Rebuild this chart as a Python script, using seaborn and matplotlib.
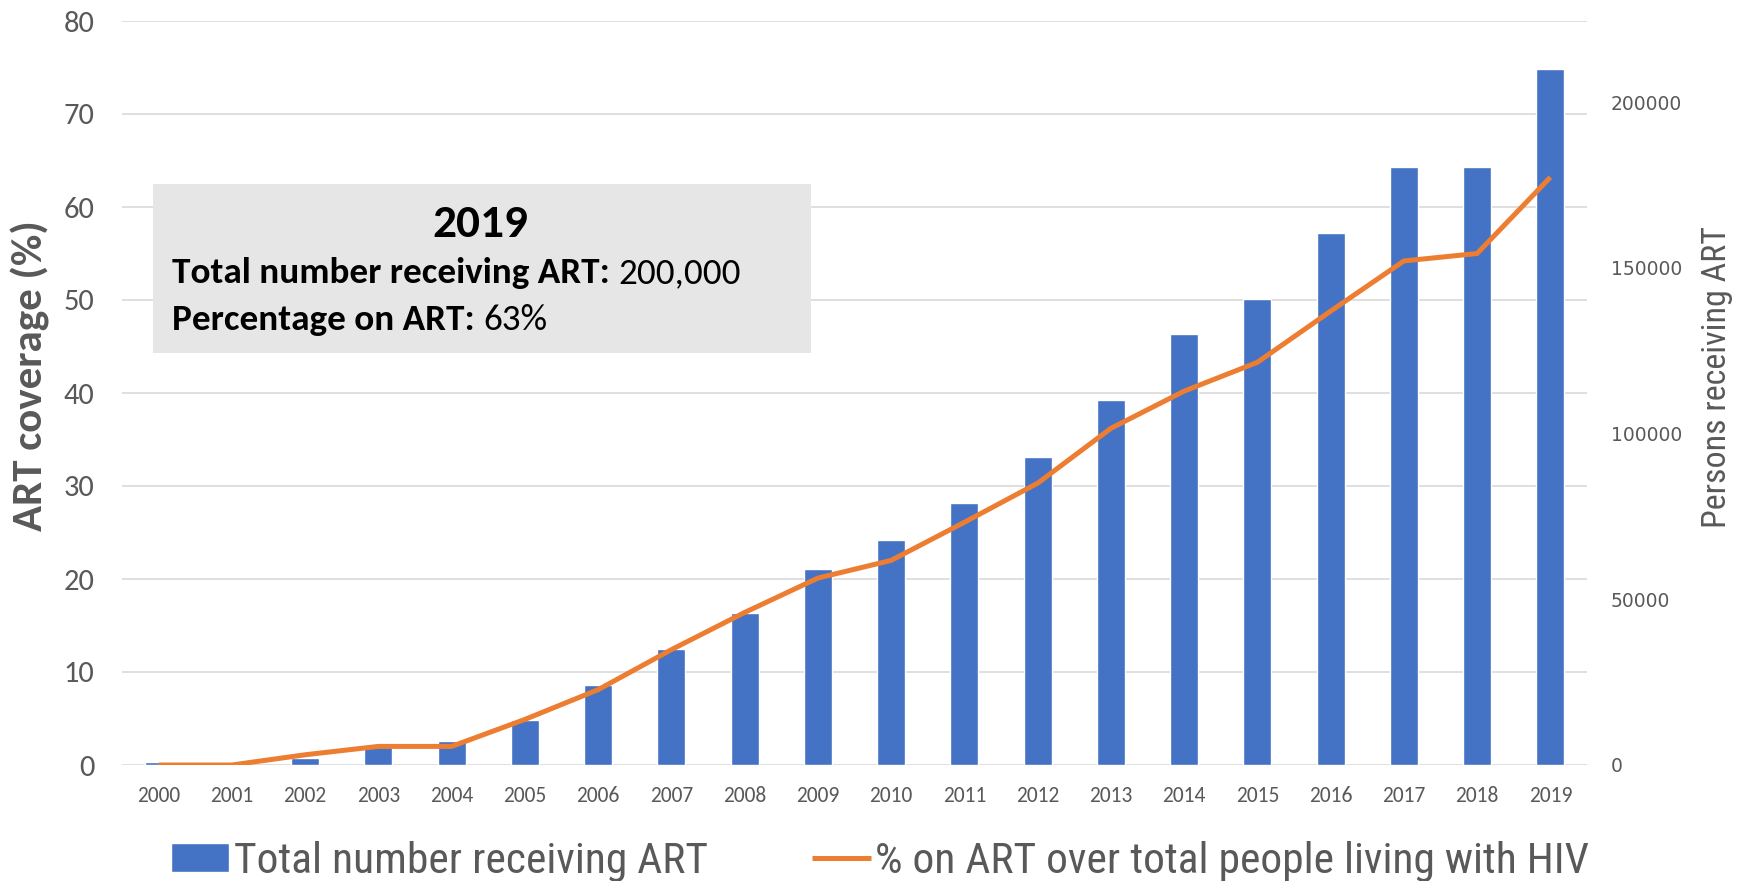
import numpy as np
import pandas as pd
import matplotlib
matplotlib.use("Agg")
import matplotlib.pyplot as plt
import matplotlib.font_manager as fm
from matplotlib.patches import Rectangle
import seaborn as sns

# ---- data ----
years = ["2000", "2001", "2002", "2003", "2004", "2005", "2006", "2007", "2008", "2009",
         "2010", "2011", "2012", "2013", "2014", "2015", "2016", "2017", "2018", "2019"]
persons_on_art = [900, 600, 2250, 5400, 7300, 13500, 24000, 35000, 46000, 59000,
                  68000, 79000, 93000, 110000, 130000, 140500, 160500, 180500, 180500, 210000]
pct_on_art = [0.0, 0.0, 1.1, 2.0, 2.0, 4.9, 8.1, 12.4, 16.4, 20.1,
              22.0, 26.1, 30.3, 36.2, 40.2, 43.3, 48.8, 54.2, 55.0, 63.2]
left_ticks = [0, 10, 20, 30, 40, 50, 60, 70, 80]
right_ticks = [0, 50000, 100000, 150000, 200000]
bar_label = "Total number receiving ART"
line_label = "% on ART over total people living with HIV"
box_title = "2019"
box_lines = [("Total number receiving ART: ", "200,000"), ("Percentage on ART: ", "63%")]

names = {f.name for f in fm.fontManager.ttflist}
def pick(*cands):
    for c in cands:
        if c in names:
            return c
    return "DejaVu Sans"

calibri = pick("Carlito", "Lato", "Open Sans")
narrow = pick("Liberation Sans Narrow", "Roboto Condensed", "Open Sans Condensed", "Carlito", "Lato")

sns.set_theme(style="white")
plt.rcParams["font.family"] = [calibri, "DejaVu Sans"]

GRAY = "#595959"
BLUE = "#4472C4"
ORANGE = "#ED7D31"
W, H = 1740, 881

fig = plt.figure(figsize=(17.4, 8.81), dpi=100)
ax = fig.add_axes([122/W, 1-765/H, (1587-122)/W, (765-21)/H])
ax2 = ax.twinx()
ax3 = ax.twinx()

df = pd.DataFrame({"year": years, "persons": persons_on_art, "pct": pct_on_art,
                   "pos": np.arange(len(years))})

# bars (right axis)
sns.barplot(data=df, x="year", y="persons", color=BLUE, width=0.38, ax=ax2,
            saturation=1, label=bar_label)
ax2.set_ylim(0, 224500)
ax2.set_yticks(right_ticks)
ax2.set_yticklabels([str(v) for v in right_ticks])
ax2.set_ylabel("")
ax2.set_xlabel("")
ax2.tick_params(axis="y", length=0, pad=17, labelsize=13.5, labelcolor=GRAY)
for t in ax2.get_yticklabels():
    t.set_fontfamily("DejaVu Sans")
for s in ax2.spines.values():
    s.set_visible(False)
ax2.grid(False)

# line (left axis scale)
sns.lineplot(data=df, x="pos", y="pct", color=ORANGE, lw=3.6, ax=ax3, label=line_label,
             solid_capstyle="butt")
ax3.set_ylim(0, 80)
ax3.set_yticks([])
ax3.set_ylabel("")
ax3.set_xlabel("")
ax3.grid(False)
for s in ax3.spines.values():
    s.set_visible(False)
for a in (ax2, ax3):
    if a.get_legend():
        a.get_legend().remove()

# grid / left axis / x labels on base axes
ax.set_ylim(0, 80)
ax.set_yticks(left_ticks)
ax.grid(axis="y", color="#d9d9d9", lw=1.2)
ax.grid(axis="x", visible=False)
for s in ax.spines.values():
    s.set_visible(False)
ax.set_xticks(np.arange(len(years)))
ax.set_xticklabels(years)
ax.set_xlim(-0.5, len(years) - 0.5)
ax.tick_params(axis="y", length=0, pad=20, labelsize=22, labelcolor=GRAY)
ax.tick_params(axis="x", length=0, pad=15, labelsize=15.5, labelcolor=GRAY)
for t in ax.get_yticklabels():
    t.set_fontfamily(calibri)
for t in ax.get_xticklabels():
    t.set_fontfamily(calibri)

# axis titles
fig.text(30/W, 1-376/H, "ART coverage (%)", rotation=90, ha="center", va="center",
         fontsize=31, fontweight="bold", color=GRAY, family=calibri)
fig.text(1717/W, 1-377/H, "Persons receiving ART", rotation=90, ha="center", va="center",
         fontsize=24.5, color=GRAY, family=narrow)

# annotation box
fig.patches.append(Rectangle((153/W, 1-353/H), (811-153)/W, (353-184)/H,
                             transform=fig.transFigure, facecolor="#e6e6e6", edgecolor="none",
                             zorder=5))
fig.text(480/W, 1-224/H, box_title, ha="center", va="center", fontsize=34,
         fontweight="bold", color="black", family=calibri, zorder=6)
ys = [273, 320]
for (b, r), y in zip(box_lines, ys):
    tb = fig.text(172/W, 1-y/H, b, ha="left", va="center", fontsize=26.7,
                  fontweight="bold", color="black", family=calibri, zorder=6)
    fig.canvas.draw()
    bb = tb.get_window_extent()
    fig.text(bb.x1/W, 1-y/H, r, ha="left", va="center", fontsize=26.7,
             color="black", family=calibri, zorder=6)

# legend
h1 = ax2.patches[0]
h2 = ax3.lines[0]
fig.legend([h1, h2], [bar_label, line_label], loc="center", ncol=2,
           bbox_to_anchor=(880/W, 1-861/H), frameon=False,
           prop={"family": narrow, "size": 31.3}, labelcolor=GRAY,
           handlelength=1.35, handleheight=0.65, handletextpad=0.1,
           columnspacing=2.4, borderaxespad=0, borderpad=0)

fig.savefig("out.png", dpi=100)
